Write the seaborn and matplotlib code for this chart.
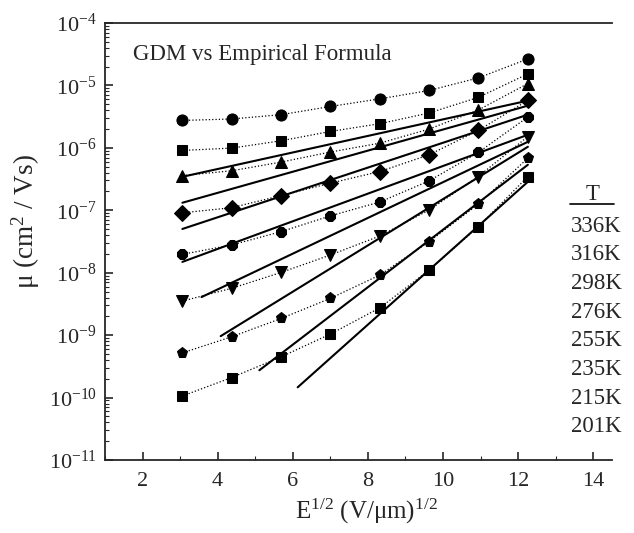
import matplotlib
matplotlib.use('Agg')
import matplotlib.pyplot as plt
import matplotlib.ticker as mticker
from matplotlib.lines import Line2D
import pandas as pd
import seaborn as sns

# sqrt(E) positions of the GDM points
sqrt_e = [3.06, 4.37, 5.69, 7.0, 8.32, 9.63, 10.94, 12.26]

temps = ['336K', '316K', '298K', '276K', '255K', '235K', '215K', '201K']
markers = ['o', 's', '^', 'D', '8', 'v', 'p', 's']

# GDM mobilities (cm^2/Vs)
mu_336 = [2.75e-6, 2.9e-6, 3.4e-6, 4.6e-6, 6.1e-6, 8.3e-6, 1.32e-5, 2.66e-5]
mu_316 = [9.1e-7, 9.9e-7, 1.30e-6, 1.83e-6, 2.44e-6, 3.62e-6, 6.44e-6, 1.53e-5]
mu_298 = [3.6e-7, 4.29e-7, 5.92e-7, 8.57e-7, 1.19e-6, 2.0e-6, 4.04e-6, 1.07e-5]
mu_276 = [9.1e-8, 1.1e-7, 1.72e-7, 2.72e-7, 4.18e-7, 7.75e-7, 1.90e-6, 5.77e-6]
mu_255 = [1.97e-8, 2.78e-8, 4.55e-8, 8.13e-8, 1.36e-7, 2.96e-7, 8.44e-7, 3.12e-6]
mu_235 = [3.51e-9, 5.62e-9, 1.01e-8, 1.92e-8, 3.88e-8, 1.01e-7, 3.47e-7, 1.52e-6]
mu_215 = [5.2e-10, 9.4e-10, 1.85e-9, 3.88e-9, 9.19e-9, 3.15e-8, 1.25e-7, 6.86e-7]
mu_201 = [1.06e-10, 2.09e-10, 4.49e-10, 1.04e-9, 2.74e-9, 1.10e-8, 5.47e-8, 3.47e-7]
gdm = [mu_336, mu_316, mu_298, mu_276, mu_255, mu_235, mu_215, mu_201]

# empirical formula lines (straight in log scale): start / end points
fit_x0 = [3.06, 3.06, 3.06, 3.06, 3.57, 4.08, 5.11, 6.13]
fit_x1 = [12.26, 12.26, 12.26, 12.26, 12.26, 12.26, 12.26, 12.26]
fit_mu0 = [3.44e-7, 1.32e-7, 5.02e-8, 1.49e-8, 4.07e-9, 9.64e-10, 2.74e-10, 1.46e-10]
fit_mu1 = [5.70e-6, 4.74e-6, 3.40e-6, 1.62e-6, 1.25e-6, 1.04e-6, 5.36e-7, 2.86e-7]

sns.set_style('ticks')
plt.rcParams['font.family'] = ['Liberation Serif', 'DejaVu Serif']
plt.rcParams['mathtext.fontset'] = 'custom'
plt.rcParams['mathtext.rm'] = 'Liberation Serif'
plt.rcParams['mathtext.it'] = 'Liberation Serif:italic'

W, H = 634, 533
fig = plt.figure(figsize=(W / 100, H / 100), dpi=100)
ax = fig.add_axes([105 / W, 1 - 460 / H, (612 - 105) / W, (460 - 23) / H])

for i in range(len(temps)):
    df = pd.DataFrame({'x': sqrt_e, 'mu': gdm[i]})
    sns.lineplot(data=df, x='x', y='mu', ax=ax, color='black', linestyle=':',
                 linewidth=0.9, marker=markers[i], markersize=7 if markers[i] == 's' else 8,
                 markeredgecolor='black', markerfacecolor='black', estimator=None, sort=False)

for i in range(len(fit_x0)):
    sns.lineplot(x=[fit_x0[i], fit_x1[i]], y=[fit_mu0[i], fit_mu1[i]], ax=ax,
                 color='black', linewidth=1.5, estimator=None, sort=False)

ax.set_yscale('log')
ax.set_xlim(1, 14.5)
ax.set_ylim(1e-11, 1e-4)
ax.xaxis.set_major_locator(mticker.MultipleLocator(2))
ax.xaxis.set_minor_locator(mticker.MultipleLocator(1))
ax.yaxis.set_major_locator(mticker.LogLocator(base=10, numticks=20))
ax.yaxis.set_minor_locator(mticker.LogLocator(base=10, subs=range(2, 10), numticks=20))
ax.yaxis.set_major_formatter(mticker.LogFormatterMathtext())
ax.yaxis.set_minor_formatter(mticker.NullFormatter())
ax.tick_params(which='both', direction='in', top=False, right=False, labelsize=16)
ax.tick_params(which='major', length=6, width=1.2)
ax.tick_params(which='minor', length=3, width=0.8)
ax.tick_params(axis='x', pad=9)
ax.tick_params(axis='y', pad=6)
ax.spines['right'].set_visible(False)
for s in ['left', 'bottom', 'top']:
    ax.spines[s].set_linewidth(1.3)

ax.set_xlabel('E$^{1/2}$ (V/μm)$^{1/2}$', fontsize=18)
ax.set_ylabel('μ (cm$^2$ / Vs)', fontsize=19.5)
ax.xaxis.set_label_coords(0.515, -0.085)
ax.yaxis.set_label_coords(-0.125, 0.545)

ax.text(0.055, 0.927, 'GDM vs Empirical Formula', transform=ax.transAxes,
        fontsize=16.5, ha='left', va='center')

# temperature column on the right
fig.text(593 / W, 1 - 195 / H, 'T', fontsize=16.5, ha='center', va='center')
fig.add_artist(Line2D([570 / W, 614 / W], [1 - 204 / H, 1 - 204 / H],
                      color='black', linewidth=1.2, transform=fig.transFigure))
for i, t in enumerate(temps):
    fig.text(596 / W, 1 - (226 + i * 28.7) / H, t, fontsize=16.5,
             ha='center', va='center')

fig.savefig('out.png', dpi=100)
